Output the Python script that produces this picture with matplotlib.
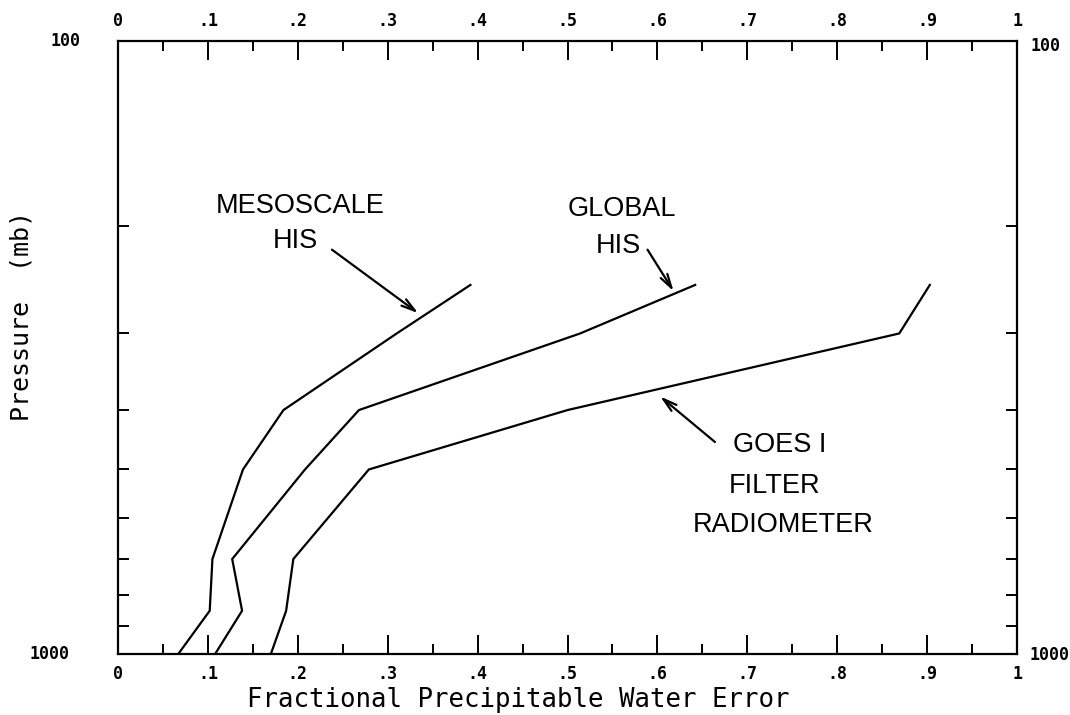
import matplotlib
matplotlib.use("Agg")
import matplotlib.pyplot as plt
from matplotlib.ticker import FixedLocator, NullFormatter, LogLocator
import matplotlib.transforms as mtransforms

# Pressure levels (mb) and fractional precipitable water error per instrument
pressure = [1000, 850, 700, 500, 400, 300, 250]
mesoscale_his = [0.067, 0.102, 0.105, 0.139, 0.184, 0.31, 0.392]
global_his = [0.108, 0.138, 0.127, 0.208, 0.268, 0.514, 0.642]
goes_filter = [0.17, 0.187, 0.195, 0.279, 0.50, 0.869, 0.903]

x_ticks = [0, 0.1, 0.2, 0.3, 0.4, 0.5, 0.6, 0.7, 0.8, 0.9, 1.0]
x_tick_labels = ["0", ".1", ".2", ".3", ".4", ".5", ".6", ".7", ".8", ".9", "1"]
x_minor = [0.05, 0.15, 0.25, 0.35, 0.45, 0.55, 0.65, 0.75, 0.85, 0.95]

MONO = "DejaVu Sans Mono"
SANS = "Liberation Sans"

fig = plt.figure(figsize=(10.7, 7.15), dpi=100)
ax = fig.add_axes([0.1103, 0.0853, 0.8402, 0.8574])

lw = 1.6
for series in (mesoscale_his, global_his, goes_filter):
    ax.plot(series, pressure, color="black", lw=lw, solid_joinstyle="miter")

ax.set_xlim(0, 1)
ax.set_yscale("log")
ax.set_ylim(1000, 100)

for s in ax.spines.values():
    s.set_linewidth(1.6)

# x axis: labelled ticks on top and bottom, pointing inward
ax.xaxis.set_major_locator(FixedLocator(x_ticks))
ax.xaxis.set_minor_locator(FixedLocator(x_minor))
ax.set_xticklabels(x_tick_labels)
ax.tick_params(axis="x", which="major", direction="in", length=14, width=1.4,
               top=True, bottom=True, labeltop=True, labelbottom=True, pad=8)
ax.tick_params(axis="x", which="minor", direction="in", length=7, width=1.4,
               top=True, bottom=True)
for lab in ax.get_xticklabels():
    lab.set_fontfamily(MONO)
    lab.set_fontsize(12)
    lab.set_fontweight("bold")

# y axis: log pressure with inward ticks on both sides, end labels only
ax.yaxis.set_major_locator(FixedLocator([100, 1000]))
ax.yaxis.set_minor_locator(LogLocator(base=10, subs=[2, 3, 4, 5, 6, 7, 8, 9]))
ax.yaxis.set_major_formatter(NullFormatter())
ax.yaxis.set_minor_formatter(NullFormatter())
ax.tick_params(axis="y", which="both", direction="in", length=8, width=1.4,
               left=True, right=True)
ax.tick_params(axis="y", which="major", length=0)

ytrans = mtransforms.blended_transform_factory(ax.transAxes, ax.transData)
end_kw = dict(fontfamily=MONO, fontsize=12, fontweight="bold", transform=ytrans,
              ha="center", va="center")
ax.text(-0.058, 100, "100", **end_kw)
ax.text(-0.076, 1000, "1000", **end_kw)
ax.text(1.032, 102, "100", **end_kw)
ax.text(1.036, 1005, "1000", **end_kw)

# Curve annotations
lab_kw = dict(fontfamily=SANS, fontsize=19.5, ha="center", va="center")
ax.text(0.203, 186, "MESOSCALE", **lab_kw)
ax.text(0.197, 212, "HIS", **lab_kw)
ax.text(0.560, 188, "GLOBAL", **lab_kw)
ax.text(0.557, 216, "HIS", **lab_kw)
ax.text(0.736, 456, "GOES I", **lab_kw)
ax.text(0.730, 533, "FILTER", **lab_kw)
ax.text(0.740, 617, "RADIOMETER", **lab_kw)

arrow_kw = dict(arrowstyle="->,head_length=1.0,head_width=0.28", color="black",
                lw=1.6, shrinkA=0, shrinkB=0)
ax.annotate("", xy=(0.334, 278), xytext=(0.238, 219), arrowprops=arrow_kw)
ax.annotate("", xy=(0.618, 256), xytext=(0.589, 219), arrowprops=arrow_kw)
ax.annotate("", xy=(0.603, 380), xytext=(0.664, 451), arrowprops=arrow_kw)

# Axis titles
fig.text(518 / 1070, 1 - 700 / 715, "Fractional Precipitable Water Error",
         fontfamily=MONO, fontsize=18.5, ha="center", va="center")
fig.text(21.7 / 1070, 1 - 316 / 715, "Pressure  (mb)",
         fontfamily=MONO, fontsize=18, ha="center", va="center", rotation=90)

fig.savefig("out.png", dpi=100, facecolor="white")
